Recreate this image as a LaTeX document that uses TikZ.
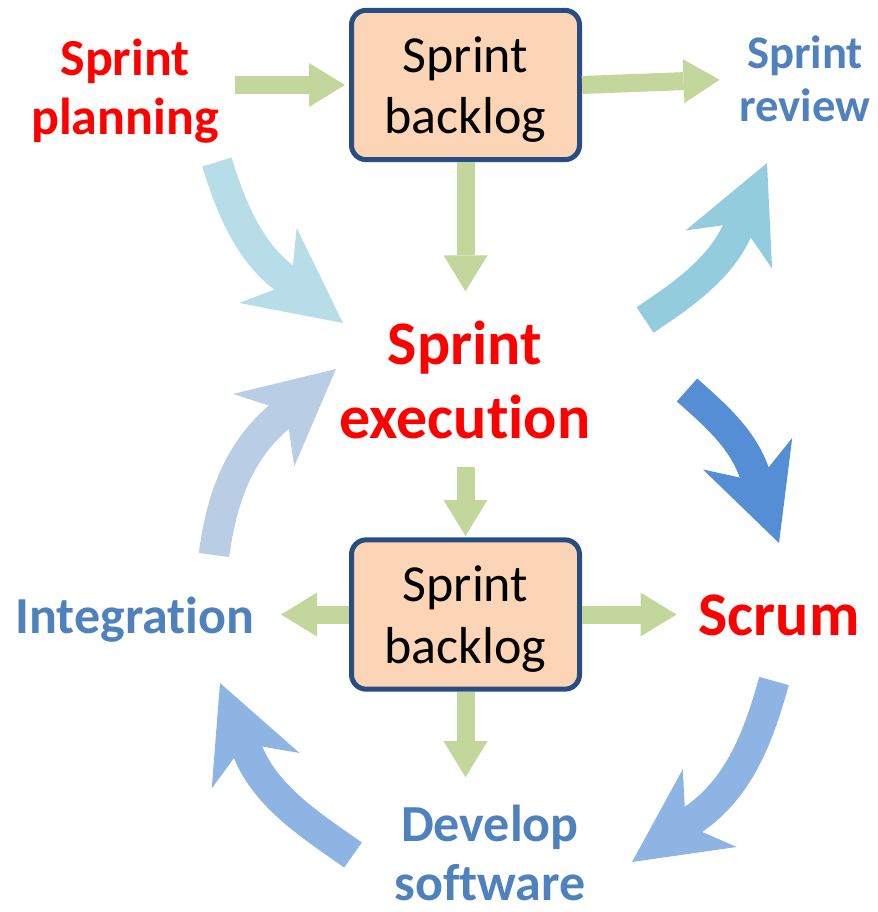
\documentclass[tikz,border=0pt]{standalone}
\usepackage{fontspec}
\setmainfont{Carlito}[Ligatures=NoCommon]
\usepackage{xcolor}
\usetikzlibrary{arrows.meta}

\definecolor{sprintred}{RGB}{255,0,0}
\definecolor{sprintblue}{RGB}{79,129,189}
\definecolor{backlogfill}{RGB}{251,213,181}
\definecolor{backlogdraw}{RGB}{38,78,130}
\definecolor{flowgreen}{RGB}{195,214,155}
\definecolor{aqualight}{RGB}{183,222,232}
\definecolor{aquamid}{RGB}{147,205,221}
\definecolor{bluedark}{RGB}{85,142,213}
\definecolor{bluemid}{RGB}{142,180,227}
\definecolor{bluepale}{RGB}{185,205,229}

\begin{document}
\begin{tikzpicture}[x=0.75pt,y=-0.75pt,
    backlog/.style={draw=backlogdraw,line width=3.75pt,fill=backlogfill,rounded corners=11pt,
        minimum width=171pt,minimum height=112pt,align=center,text depth=0pt,
        font=\fontsize{39}{46}\selectfont},
    phase/.style={inner sep=0pt,outer sep=0pt,align=center,font=\bfseries\fontsize{39}{44}\selectfont},
    bigphase/.style={phase,font=\bfseries\fontsize{46.5}{56}\selectfont},
    greenflow/.style={draw=flowgreen,line width=13.5pt,-{Triangle[length=27pt,width=33pt,line width=0pt]}},
    bigflow/.style={line width=23pt,-{Stealth[length=71pt,width=71pt,inset=22pt,line width=0pt]}}]
    % Frame
    \useasboundingbox (0,0) rectangle (877,912);

    % Backlog boxes
    \node[backlog] (box1) at (465.5,85) {Sprint\\backlog};
    \node[backlog] (box2) at (465.5,614.5) {Sprint\\backlog};

    % Phases
    \node[phase,text=sprintred] (plan) at (125,91) {Sprint\\planning};
    \node[phase,text=sprintblue,font=\bfseries\fontsize{35}{40}\selectfont] (review) at (805,79) {Sprint\\review};
    \node[bigphase,text=sprintred] (exec) at (465,380) {Sprint\\execution};
    \node[phase,text=sprintblue] (integ) at (135,620) {Integration};
    \node[bigphase,text=sprintred] (scrum) at (779,615) {Scrum};
    \node[phase,text=sprintblue] (dev) at (490,853) {Develop\\software};

    % Straight arrows
    \draw[greenflow,shorten <=12pt,shorten >=3pt] (plan.east |- box1.west) -- (box1.west);
    \draw[greenflow,shorten >=15pt] (box1.east) -- (review.west);
    \draw[greenflow,shorten >=22pt] (box1.south) -- (box1.south |- exec.north);
    \draw[greenflow,shorten <=21pt,shorten >=1pt] (box2.north |- exec.south) -- (box2.north);
    \draw[greenflow,shorten >=20pt] (box2.west) -- (integ.east |- box2.west);
    \draw[greenflow,shorten >=16.5pt] (box2.east) -- (scrum.west |- box2.east);
    \draw[greenflow,shorten >=21pt] (box2.south) -- (box2.south |- dev.north);

    % Curved arrows
    \coordinate (tailA) at (217,162);
    \coordinate (tipA) at (343,323);
    \coordinate (tailB) at (645,320);
    \coordinate (tipB) at (767,163);
    \coordinate (tailC) at (687,390);
    \coordinate (tipC) at (779,543);
    \coordinate (tailD) at (774,681);
    \coordinate (tipD) at (632,862);
    \coordinate (tailE) at (353,855);
    \coordinate (tipE) at (220,683);
    \coordinate (tailF) at (214,555);
    \coordinate (tipF) at (336,369);

    \draw[bigflow,color=aqualight] (tailA) .. controls (230,205) and (248,250) .. (283,277) -- (tipA);
    \draw[bigflow,color=aquamid] (tailB) .. controls (681,296) and (719,270) .. (737,231) -- (tipB);
    \draw[bigflow,color=bluedark] (tailC) .. controls (714,414) and (742,438) .. (754,472) -- (tipC);
    \draw[bigflow,color=bluemid] (tailD) .. controls (759,735) and (740,787) .. (694,819) -- (tipD);
    \draw[bigflow,color=bluemid] (tailE) .. controls (312,826) and (267,798) .. (248,752) -- (tipE);
    \draw[bigflow,color=bluepale] (tailF) .. controls (221,502) and (237,453) .. (278,418) -- (tipF);
\end{tikzpicture}
\end{document}
